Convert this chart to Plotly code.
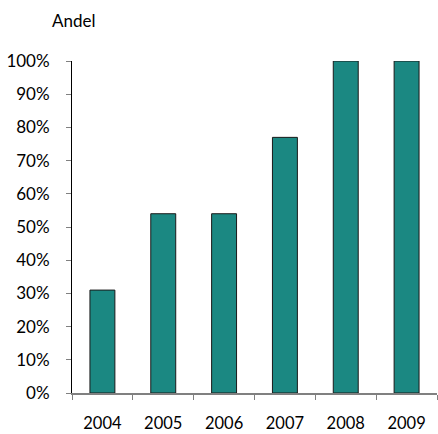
import plotly.graph_objects as go

years = ["2004", "2005", "2006", "2007", "2008", "2009"]
andel = [0.31, 0.54, 0.54, 0.77, 1.00, 1.00]
y_ticks = [0, 0.1, 0.2, 0.3, 0.4, 0.5, 0.6, 0.7, 0.8, 0.9, 1.0]
y_labels = ["0%", "10%", "20%", "30%", "40%", "50%", "60%", "70%", "80%", "90%", "100%"]

fig = go.Figure(go.Bar(
    x=years, y=andel,
    marker=dict(color="#1b8882", line=dict(color="#1a1a1a", width=1)),
))

fnt = dict(family="Lato, 'Open Sans', sans-serif", size=17, color="#000000")
xfnt = dict(family="Lato, 'Open Sans', sans-serif", size=16.5, color="#000000")

fig.update_layout(
    width=438, height=434,
    margin=dict(l=72, r=1, t=61, b=41),
    paper_bgcolor="white", plot_bgcolor="white",
    bargap=0.59,
    showlegend=False,
    font=fnt,
    xaxis=dict(
        type="category", tickson="boundaries", ticks="outside", ticklen=5,
        tickcolor="#808080", showline=True, linecolor="#808080", linewidth=1.5,
        showgrid=False, tickfont=xfnt, ticklabelstandoff=14, automargin=False,
    ),
    yaxis=dict(
        range=[0, 1.0], tickvals=y_ticks, ticktext=y_labels,
        ticks="outside", ticklen=5, tickcolor="#808080",
        showline=True, linecolor="#000000", linewidth=1,
        showgrid=False, zeroline=False, tickfont=fnt, ticklabelstandoff=13,
        automargin=False,
    ),
    annotations=[dict(
        text="Andel", xref="paper", yref="paper", x=-0.06, y=1.0,
        yshift=41, xanchor="left", yanchor="middle", showarrow=False,
        font=fnt,
    )],
)

fig.write_html(
    "out.html",
    config={"displayModeBar": False},
    post_script="document.body.style.margin='0';document.body.style.overflow='hidden';",
)
